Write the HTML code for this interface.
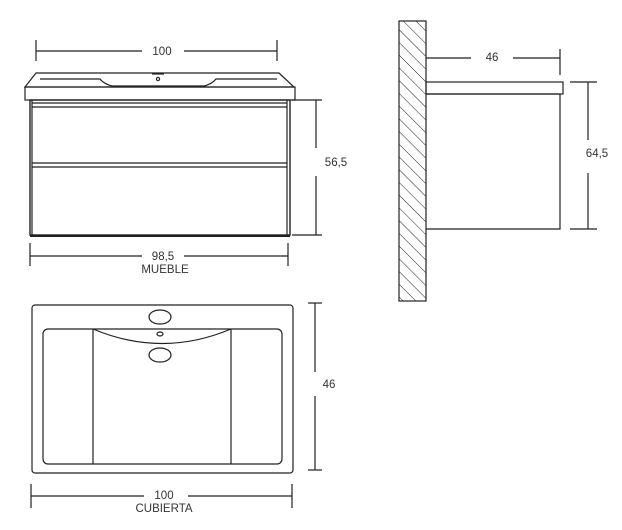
<!DOCTYPE html>
<html><head><meta charset="utf-8"><style>
html,body{margin:0;padding:0;background:#fff;}
svg{display:block;}
text{font-family:"Liberation Sans",sans-serif;font-size:11.5px;fill:#333;}
</style></head><body>
<svg width="622" height="530" viewBox="0 0 622 530" xmlns="http://www.w3.org/2000/svg">
<defs>
<pattern id="h" patternUnits="userSpaceOnUse" width="9" height="9" patternTransform="rotate(-45)">
<line x1="0" y1="0" x2="0" y2="9" stroke="#222" stroke-width="1"/>
</pattern>
</defs>
<g stroke="#222" fill="none" stroke-width="1.2">
<!-- Front view -->
<line x1="36" y1="51" x2="142" y2="51"/><line x1="184" y1="51" x2="277" y2="51"/>
<line x1="36" y1="40" x2="36" y2="61"/><line x1="277" y1="40" x2="277" y2="61"/>
<path d="M36 73 L279 73 L294 87 L25 87 Z"/>
<rect x="25" y="87" width="270" height="13"/>
<path d="M40 79 L100 79 Q104 84 112 86 L204 86 Q212 84 216 79 L277 79"/>
<circle cx="158" cy="79" r="1.6"/>
<path d="M152 74 L164 74"/>
<rect x="30" y="100" width="260" height="135" stroke-width="1.4"/>
<line x1="32" y1="100" x2="32" y2="235"/><line x1="287" y1="100" x2="287" y2="235"/>
<line x1="32" y1="103" x2="287" y2="103"/><line x1="32" y1="107" x2="287" y2="107"/>
<line x1="32" y1="163" x2="287" y2="163"/><line x1="32" y1="167" x2="287" y2="167"/>
<line x1="30" y1="236" x2="290" y2="236" stroke-width="2"/>
<line x1="316" y1="100" x2="316" y2="148"/><line x1="316" y1="176" x2="316" y2="235"/>
<line x1="292" y1="100" x2="322" y2="100"/><line x1="292" y1="235" x2="322" y2="235"/>
<line x1="30" y1="256" x2="142" y2="256"/><line x1="184" y1="256" x2="288" y2="256"/>
<line x1="30" y1="243" x2="30" y2="266"/><line x1="288" y1="243" x2="288" y2="266"/>
<!-- Side view -->
<rect x="399" y="21" width="27" height="280" fill="url(#h)"/>
<line x1="426" y1="58" x2="471" y2="58"/><line x1="513" y1="58" x2="560" y2="58"/>
<line x1="560" y1="49" x2="560" y2="75"/>
<rect x="426" y="82" width="137" height="12"/>
<path d="M426 94 L560 94 L560 229 L426 229"/>
<line x1="588" y1="82" x2="588" y2="140"/><line x1="588" y1="173" x2="588" y2="229"/>
<line x1="570" y1="82" x2="597" y2="82"/><line x1="570" y1="229" x2="597" y2="229"/>
<!-- Top view -->
<rect x="32" y="305" width="261" height="168" rx="3"/>
<rect x="43" y="329" width="239" height="135" rx="5"/>
<line x1="93" y1="329" x2="93" y2="464"/><line x1="231" y1="329" x2="231" y2="464"/>
<path d="M93 329 Q162 358 231 329"/>
<ellipse cx="160" cy="317" rx="11" ry="7"/>
<ellipse cx="160" cy="334" rx="3" ry="2"/>
<ellipse cx="160" cy="355" rx="11" ry="7"/>
<line x1="315" y1="303" x2="315" y2="372"/><line x1="315" y1="396" x2="315" y2="470"/>
<line x1="308" y1="303" x2="322" y2="303"/><line x1="308" y1="470" x2="322" y2="470"/>
<line x1="31" y1="496" x2="144" y2="496"/><line x1="188" y1="496" x2="292" y2="496"/>
<line x1="31" y1="484" x2="31" y2="508"/><line x1="292" y1="484" x2="292" y2="508"/>
</g>
<text x="162" y="55" text-anchor="middle">100</text>
<text x="336" y="166" text-anchor="middle">56,5</text>
<text x="163" y="260" text-anchor="middle">98,5</text>
<text x="165" y="273" text-anchor="middle">MUEBLE</text>
<text x="492" y="61" text-anchor="middle">46</text>
<text x="597" y="157" text-anchor="middle">64,5</text>
<text x="329" y="388" text-anchor="middle">46</text>
<text x="164" y="499" text-anchor="middle">100</text>
<text x="164" y="512" text-anchor="middle">CUBIERTA</text>
</svg>
</body></html>
